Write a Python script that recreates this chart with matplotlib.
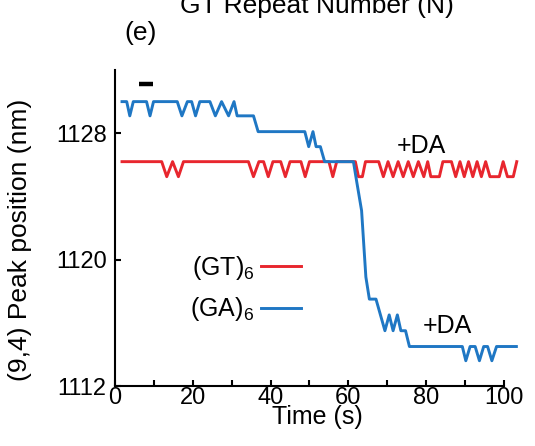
import matplotlib
matplotlib.use("Agg")
import matplotlib.pyplot as plt

plt.rcParams['font.family'] = ['Liberation Sans', 'DejaVu Sans']
plt.rcParams['mathtext.fontset'] = 'custom'
plt.rcParams['mathtext.rm'] = 'Liberation Sans'
plt.rcParams['mathtext.default'] = 'regular'

# --- Data (time in s, peak position in nm)
gt_time = [1.8, 12.0, 13.3, 14.8, 16.3, 17.6, 34.3, 35.6, 37.0, 38.2, 39.4, 40.6,
           42.6, 43.8, 45.0, 47.8, 48.9, 50.0, 55.0, 56.0, 57.0, 61.8, 62.6, 63.6,
           64.4, 67.8, 69.0, 70.2, 71.5, 72.8, 74.1, 75.4, 76.7, 78.0, 79.4, 80.4,
           81.2, 83.4, 84.3, 86.5, 87.6, 88.7, 89.8, 90.9, 92.0, 93.1, 94.2, 95.3,
           96.4, 98.8, 99.8, 100.9, 102.4, 103.3]
gt_peak = [1126.2, 1126.2, 1125.25, 1126.2, 1125.25, 1126.2, 1126.2, 1125.25, 1126.2, 1126.2, 1125.25, 1126.2,
           1126.2, 1125.25, 1126.2, 1126.2, 1125.25, 1126.2, 1126.2, 1125.25, 1126.2, 1126.2, 1125.25, 1125.25,
           1126.2, 1126.2, 1125.25, 1126.2, 1125.25, 1126.2, 1125.25, 1126.2, 1125.25, 1126.2, 1125.25, 1126.2,
           1125.25, 1125.25, 1126.2, 1126.2, 1125.25, 1126.2, 1125.25, 1126.2, 1125.25, 1126.2, 1125.25, 1126.2,
           1125.25, 1125.25, 1126.2, 1125.25, 1125.25, 1126.2]

ga_time = [1.8, 3.0, 3.8, 4.7, 8.1, 9.0, 9.9, 16.0, 17.2, 18.6, 19.7, 20.7,
           21.8, 24.4, 25.8, 27.4, 29.2, 30.6, 31.4, 35.6, 36.8, 48.8, 49.8, 50.9,
           51.7, 52.8, 53.9, 61.3, 62.1, 63.4, 64.0, 64.5, 65.4, 67.1, 69.4, 70.5,
           71.5, 72.6, 73.5, 74.7, 75.7, 89.3, 90.2, 91.3, 92.6, 93.7, 94.8, 95.8,
           96.9, 98.1, 103.2]
ga_peak = [1130.0, 1130.0, 1129.1, 1130.0, 1130.0, 1129.1, 1130.0, 1130.0, 1129.1, 1130.0, 1130.0, 1129.1,
           1130.0, 1130.0, 1129.1, 1130.0, 1129.1, 1130.0, 1129.1, 1129.1, 1128.1, 1128.1, 1127.15, 1128.1,
           1127.15, 1127.15, 1126.2, 1126.2, 1125.0, 1123.1, 1120.8, 1118.9, 1117.5, 1117.5, 1115.5, 1116.5,
           1115.5, 1116.5, 1115.5, 1115.5, 1114.5, 1114.5, 1113.6, 1114.5, 1114.5, 1113.6, 1114.5, 1114.5,
           1113.6, 1114.5, 1114.5]

series_labels = [r'(GT)$_6$', r'(GA)$_6$']
series_colors = ['#e8262e', '#1f77c4']

scale_time = [6.25, 9.7]
scale_peak = [1131.1, 1131.1]

x_ticks = [0, 20, 40, 60, 80, 100]
x_minor = [10, 30, 50, 70, 90]
y_ticks = [1112, 1120, 1128]

# --- Figure
fig = plt.figure(figsize=(5.35, 4.46), dpi=100)
ax = fig.add_axes([0.215, 0.1345, 0.756, 0.7085])

ax.plot(gt_time, gt_peak, color=series_colors[0], lw=2.1, label=series_labels[0])
ax.plot(ga_time, ga_peak, color=series_colors[1], lw=2.1, label=series_labels[1])
ax.plot(scale_time, scale_peak, color='black', lw=3.2, solid_capstyle='butt')

ax.text(72.4, 1127.2, '+DA', fontsize=18, va='center', ha='left')
ax.text(79.2, 1115.8, '+DA', fontsize=18, va='center', ha='left')

ax.set_xlim(0, 104)
ax.set_ylim(1112, 1132)
ax.set_xticks(x_ticks)
ax.set_xticks(x_minor, minor=True)
ax.set_yticks(y_ticks)

for s in ['top', 'right']:
    ax.spines[s].set_visible(False)
ax.spines['bottom'].set_bounds(0, 100)
ax.spines['left'].set_linewidth(1.5)
ax.spines['bottom'].set_linewidth(1.5)

ax.tick_params(which='both', direction='in', length=4, width=1.5, labelsize=17)
ax.tick_params(axis='x', pad=1)
ax.tick_params(axis='y', pad=6)

ax.set_xlabel('Time (s)', fontsize=18, labelpad=-3)
ax.set_ylabel('(9,4) Peak position (nm)', fontsize=19)
ax.yaxis.set_label_coords(-0.206, 0.462)

leg = ax.legend(loc='center', bbox_to_anchor=(0.3225, 0.3085), frameon=False,
                markerfirst=False, fontsize=18, handlelength=1.6, handletextpad=0.25,
                labelspacing=0.55, borderpad=0)

fig.text(0.2636, 0.926, '(e)', fontsize=19, ha='center', va='center')
fig.text(0.593, 1 - 13 / 446, 'GT Repeat Number (N)', fontsize=19, ha='center', va='baseline')

fig.savefig('out.png', dpi=100)
